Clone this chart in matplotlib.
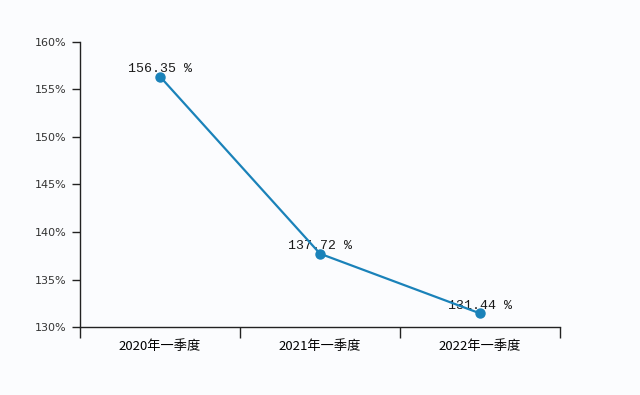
import matplotlib.pyplot as plt
from matplotlib.ticker import FixedLocator, NullFormatter, FuncFormatter

# data
quarters = ['2020年一季度', '2021年一季度', '2022年一季度']
ratios = [156.35, 137.72, 131.44]
y_ticks = [130, 135, 140, 145, 150, 155, 160]

line_color = '#1a82b9'

fig = plt.figure(figsize=(6.4, 3.95), dpi=100, facecolor='#fbfcfe')
ax = fig.add_axes([0.125, 0.172, 0.75, 0.722])
ax.set_facecolor('#fbfcfe')

x = list(range(len(quarters)))
ax.plot(x, ratios, color=line_color, linewidth=1.6, marker='o', markersize=6.5, zorder=3)

for xi, v in zip(x, ratios):
    ax.annotate(f'{v:.2f} %', (xi, v), xytext=(0, 1), textcoords='offset points',
                ha='center', va='bottom', fontsize=9.5, family='Liberation Mono',
                color='#1a1a1a', zorder=2)

ax.set_xlim(-0.5, len(quarters) - 0.5)
ax.set_ylim(130, 160)
ax.set_yticks(y_ticks)
ax.yaxis.set_major_formatter(FuncFormatter(lambda v, p: f'{int(v)}%'))

# category separators as major ticks, labels at centers
ax.xaxis.set_major_locator(FixedLocator([i - 0.5 for i in range(len(quarters) + 1)]))
ax.xaxis.set_major_formatter(NullFormatter())
ax.xaxis.set_minor_locator(FixedLocator(x))
ax.set_xticklabels(quarters, minor=True, family=['Noto Sans CJK SC', 'DejaVu Sans'], fontsize=9.5)
ax.tick_params(axis='x', which='major', length=8, width=1, direction='out', color='#222222')
ax.tick_params(axis='x', which='minor', length=0, pad=9)
ax.tick_params(axis='y', length=6, width=1, direction='out', labelsize=8, color='#222222', labelcolor='#333333')

for side in ['top', 'right']:
    ax.spines[side].set_visible(False)
for side in ['left', 'bottom']:
    ax.spines[side].set_color('#222222')
    ax.spines[side].set_linewidth(1)

fig.savefig('out.png', dpi=100, facecolor=fig.get_facecolor())
